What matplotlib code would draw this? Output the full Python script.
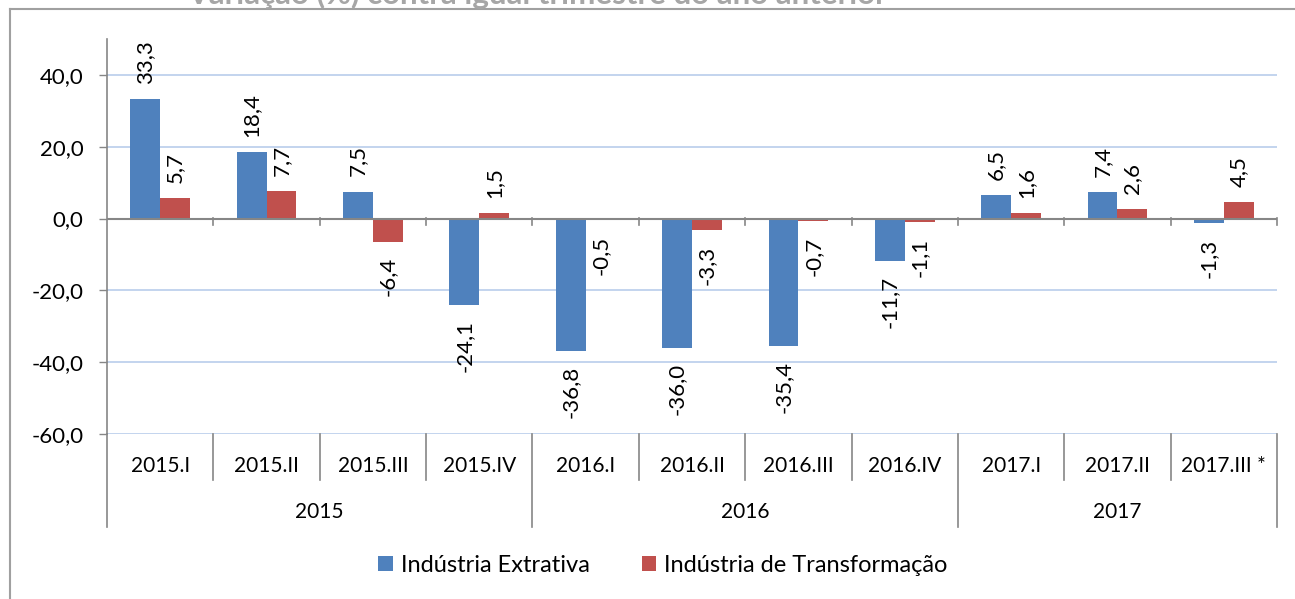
import matplotlib
matplotlib.use("Agg")
import matplotlib.pyplot as plt
from matplotlib.patches import Patch
from matplotlib.lines import Line2D
import matplotlib.transforms as mtransforms

plt.rcParams['font.family'] = ['Lato', 'DejaVu Sans']

categories = ["2015.I", "2015.II", "2015.III", "2015.IV",
              "2016.I", "2016.II", "2016.III", "2016.IV",
              "2017.I", "2017.II", "2017.III *"]
groups = ["2015", "2016", "2017"]
group_sizes = [4, 4, 3]
extrativa = [33.3, 18.4, 7.5, -24.1, -36.8, -36.0, -35.4, -11.7, 6.5, 7.4, -1.3]
transformacao = [5.7, 7.7, -6.4, 1.5, -0.5, -3.3, -0.7, -1.1, 1.6, 2.6, 4.5]
series_names = ["Indústria Extrativa", "Indústria de Transformação"]
yticks = [-60, -40, -20, 0, 20, 40]
title = "Variação (%) contra igual trimestre do ano anterior"

BLUE = "#4F81BD"
RED = "#C0504D"
GRID = "#B9CDEB"
AXGRAY = "#868686"

W, H = 1295, 599
fig = plt.figure(figsize=(W / 100, H / 100), dpi=100)
ax_l, ax_r, ax_t, ax_b = 107, 1277, 39, 434
ax = fig.add_axes([ax_l / W, 1 - ax_b / H, (ax_r - ax_l) / W, (ax_b - ax_t) / H])
axh = ax_b - ax_t

def yfrac(py):
    return (ax_b - py) / axh

n = len(categories)
x = list(range(n))
bw = 0.28
ax.bar([i - bw / 2 for i in x], extrativa, width=bw, color=BLUE, zorder=3)
ax.bar([i + bw / 2 for i in x], transformacao, width=bw, color=RED, zorder=3)

ax.set_xlim(-0.5, n - 0.5)
ax.set_ylim(-60, 50)
ax.set_yticks(yticks)
ax.set_yticklabels([f"{v:.1f}".replace(".", ",") for v in yticks], fontsize=16)
ax.tick_params(axis='y', length=6, width=1, color=AXGRAY, pad=11)
ax.set_xticks([])
for s in ['top', 'right', 'bottom']:
    ax.spines[s].set_visible(False)
ax.spines['left'].set_color(AXGRAY)
ax.spines['left'].set_linewidth(1.2)
ax.spines['left'].set_bounds(-60, 50)

for v in yticks:
    if v != 0:
        ax.axhline(v, color=GRID, lw=1.2, zorder=1)
ax.axhline(0, color=AXGRAY, lw=1.5, zorder=4)

# data labels
def lab(xs, vals):
    for xi, v in zip(xs, vals):
        txt = f"{v:.1f}".replace(".", ",")
        if v >= 0:
            ax.annotate(txt, (xi, v), xytext=(0, 11), textcoords='offset points',
                        rotation=90, ha='center', va='bottom', fontsize=16, zorder=5)
        else:
            ax.annotate(txt, (xi, v), xytext=(0, -11), textcoords='offset points',
                        rotation=90, ha='center', va='top', fontsize=16, zorder=5)
lab([i - bw / 2 for i in x], extrativa)
lab([i + bw / 2 for i in x], transformacao)

trans = mtransforms.blended_transform_factory(ax.transData, ax.transAxes)
# zero-line ticks at category boundaries
tick_len = 7 / axh
zero_frac = yfrac(218)
for b in [i + 0.5 for i in range(n)]:
    ax.add_line(Line2D([b, b], [zero_frac, zero_frac - tick_len], transform=trans,
                       color=AXGRAY, lw=1.2, clip_on=False, zorder=4))

# category separators below axes
group_bounds = []
acc = 0
for gsz in group_sizes:
    acc += gsz
    group_bounds.append(acc - 0.5)
for i in range(n + 1):
    b = i - 0.5
    if b == -0.5 or b in group_bounds:
        y1 = yfrac(527)
    else:
        y1 = yfrac(480)
    ax.add_line(Line2D([b, b], [0, y1], transform=trans, color=AXGRAY,
                       lw=1.2, clip_on=False))

for i, c in enumerate(categories):
    ax.text(i, yfrac(466), c, transform=trans, ha='center', va='center', fontsize=15)
start = -0.5
for g, gsz in zip(groups, group_sizes):
    ax.text(start + gsz / 2, yfrac(512), g, transform=trans, ha='center', va='center',
            fontsize=15)
    start += gsz

# legend
handles = [Patch(facecolor=BLUE, edgecolor='none'), Patch(facecolor=RED, edgecolor='none')]
fig.legend(handles, series_names, loc='center', bbox_to_anchor=(663 / W, 1 - 565 / H),
           ncol=2, frameon=False, fontsize=17, handlelength=0.6, handleheight=0.6,
           handletextpad=0.35, columnspacing=2.2)

# chart border and clipped title
fig.add_artist(Line2D([10 / W, 1], [1 - 9 / H, 1 - 9 / H], transform=fig.transFigure,
                      color="#A0A0A0", lw=1.5))
fig.add_artist(Line2D([10 / W, 10 / W], [1 - 9 / H, 0], transform=fig.transFigure,
                      color="#A0A0A0", lw=1.5))
fig.text(537 / W, 1 - 4 / H, title, ha='center', va='baseline', fontsize=22.5,
         fontweight='bold', color="#A6A6A6")

fig.savefig("out.png", dpi=100)
